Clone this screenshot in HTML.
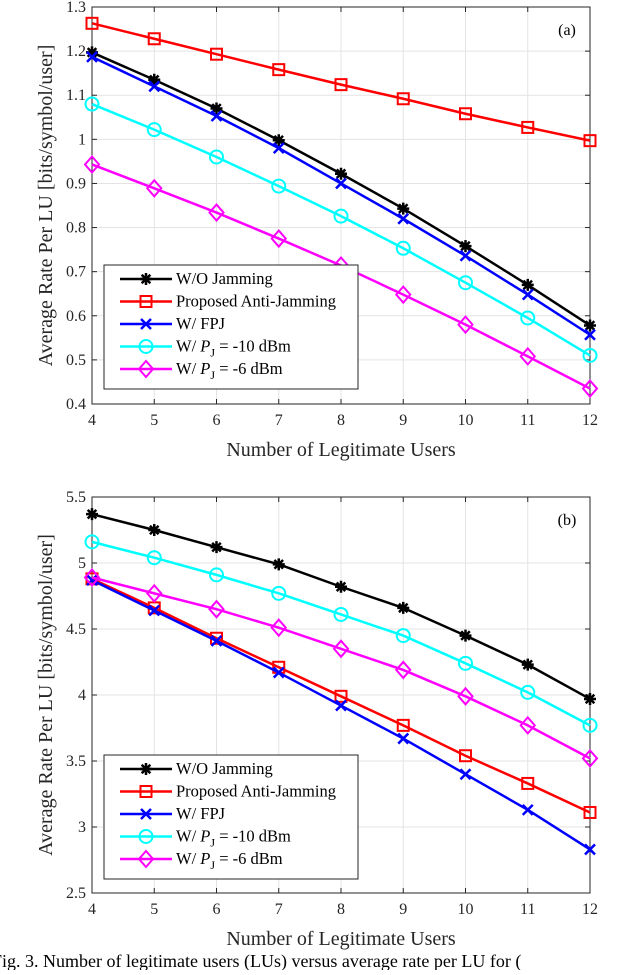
<!DOCTYPE html>
<html><head><meta charset="utf-8"><style>
body{margin:0;background:#fff;width:630px;height:970px;overflow:hidden}
svg{font-family:"Liberation Serif",serif}
</style></head><body>
<svg id="s" width="630" height="970"></svg>
<script>
const xCats=[4,5,6,7,8,9,10,11,12];
const seriesNames=["W/O Jamming","Proposed Anti-Jamming","W/ FPJ","W/ P_J = -10 dBm","W/ P_J = -6 dBm"];
const aWO=[1.197,1.135,1.07,0.998,0.922,0.843,0.758,0.67,0.578];
const aProp=[1.263,1.228,1.193,1.158,1.124,1.092,1.058,1.027,0.997];
const aFPJ=[1.187,1.12,1.053,0.98,0.9,0.82,0.736,0.648,0.557];
const aP10=[1.08,1.022,0.96,0.894,0.826,0.753,0.675,0.595,0.51];
const aP6=[0.943,0.889,0.834,0.775,0.714,0.648,0.58,0.508,0.435];
const bWO=[5.37,5.25,5.12,4.99,4.82,4.66,4.45,4.23,3.97];
const bProp=[4.88,4.66,4.43,4.21,3.99,3.77,3.54,3.33,3.11];
const bFPJ=[4.87,4.64,4.41,4.17,3.92,3.67,3.40,3.13,2.83];
const bP10=[5.16,5.04,4.91,4.77,4.61,4.45,4.24,4.02,3.77];
const bP6=[4.89,4.77,4.65,4.51,4.35,4.19,3.99,3.77,3.52];
const aTicks=["0.4","0.5","0.6","0.7","0.8","0.9","1","1.1","1.2","1.3"];
const bTicks=["2.5","3","3.5","4","4.5","5","5.5"];
const colors=["#000","#f00","#00f","#0ff","#f0f"];
const markers=["star","square","x","circle","diamond"];
const NS="http://www.w3.org/2000/svg";
const svg=document.getElementById('s');
function mk(t,a,p){const e=document.createElementNS(NS,t);for(const k in a)e.setAttribute(k,a[k]);(p||svg).appendChild(e);return e;}
function marker(g,m,x,y,c){
 const st={stroke:c,'stroke-width':2,fill:'none'};
 if(m=="square")mk('rect',Object.assign({x:x-5.5,y:y-5.5,width:11,height:11},st),g);
 else if(m=="circle")mk('circle',Object.assign({cx:x,cy:y,r:6.5},st),g);
 else if(m=="diamond")mk('path',Object.assign({d:`M${x} ${y-8}L${x+7} ${y}L${x} ${y+8}L${x-7} ${y}Z`},st),g);
 else if(m=="x")mk('path',Object.assign({d:`M${x-5} ${y-5}L${x+5} ${y+5}M${x+5} ${y-5}L${x-5} ${y+5}`},st,{'stroke-width':2.5}),g);
 else {mk('path',Object.assign({d:`M${x-6} ${y}H${x+6}M${x} ${y-6}V${y+6}M${x-4.3} ${y-4.3}L${x+4.3} ${y+4.3}M${x+4.3} ${y-4.3}L${x-4.3} ${y+4.3}`},st,{'stroke-width':2.5}),g);}
}
function chart(cfg){
 const L=92,R=590,T=cfg.top,B=cfg.bottom,ymin=+cfg.ticks[0],ymax=+cfg.ticks[cfg.ticks.length-1];
 const xs=v=>L+(v-xCats[0])/(xCats[xCats.length-1]-xCats[0])*(R-L);
 const ys=v=>B-(v-ymin)/(ymax-ymin)*(B-T);
 const g=mk('g',{});
 
 
 mk('rect',{x:L,y:T,width:R-L,height:B-T,fill:'#fff'},g);
 xCats.forEach(v=>{const x=xs(v);mk('line',{x1:x,x2:x,y1:T,y2:B,stroke:'#e3e3e3','stroke-width':1},g);
  mk('line',{x1:x,x2:x,y1:B,y2:B-5,stroke:'#262626'},g);mk('line',{x1:x,x2:x,y1:T,y2:T+5,stroke:'#262626'},g);
  const t=mk('text',{x:x,y:B+21,'text-anchor':'middle','font-size':16,fill:'#262626'},g);t.textContent=v;
  });
 cfg.ticks.forEach(s=>{const y=ys(+s);mk('line',{x1:L,x2:R,y1:y,y2:y,stroke:'#e3e3e3'},g);
  mk('line',{x1:L,x2:L+5,y1:y,y2:y,stroke:'#262626'},g);mk('line',{x1:R,x2:R-5,y1:y,y2:y,stroke:'#262626'},g);
  const t=mk('text',{x:L-6,y:y+5,'text-anchor':'end','font-size':16,fill:'#262626'},g);t.textContent=s;
  });
 mk('rect',{x:L,y:T,width:R-L,height:B-T,fill:'none',stroke:'#262626','stroke-width':1},g);
 cfg.data.forEach((d,i)=>{
  const sg=mk('g',{},g);
  
  
  mk('polyline',{points:d.map((v,j)=>xs(xCats[j])+','+ys(v)).join(' '),fill:'none',stroke:colors[i],'stroke-width':2.5},sg);
  d.forEach((v,j)=>marker(sg,markers[i],xs(xCats[j]),ys(v),colors[i]));
 });
 const lab=mk('text',{x:567,y:T+28,'text-anchor':'middle','font-size':16,fill:'#000'},g);lab.textContent=cfg.label;
 
 const lg=mk('g',{},g);
 
 
 const ly=cfg.legTop;
 mk('rect',{x:104,y:ly,width:254,height:124,fill:'#fff',stroke:'#262626'},lg);
 seriesNames.forEach((n,i)=>{const y=ly+14+i*22.5;
  mk('line',{x1:120,x2:172,y1:y,y2:y,stroke:colors[i],'stroke-width':2.5},lg);marker(lg,markers[i],146,y,colors[i]);
  const t=mk('text',{x:176,y:y+5,'font-size':16.5,fill:'#000'},lg);
  
  if(n.indexOf('P_J')>=0){const p=n.split('P_J');t.innerHTML=p[0]+'<tspan font-style="italic">P</tspan><tspan font-size="12" dy="5">J</tspan><tspan dy="-5">'+p[1]+'</tspan>';}
  else t.textContent=n;});
 const xt=mk('text',{x:341,y:B+52,'text-anchor':'middle','font-size':20,fill:'#262626'},g);xt.textContent="Number of Legitimate Users";
 
 const yc=(T+B)/2;
 const yt=mk('text',{x:52,y:yc,'text-anchor':'middle','font-size':20,fill:'#262626',transform:`rotate(-90 52 ${yc})`},g);yt.textContent="Average Rate Per LU [bits/symbol/user]";
 
}
chart({name:'chart-a',top:7,bottom:404,ticks:aTicks,data:[aWO,aProp,aFPJ,aP10,aP6],label:'(a)',legTop:265});
chart({name:'chart-b',top:497,bottom:893,ticks:bTicks,data:[bWO,bProp,bFPJ,bP10,bP6],label:'(b)',legTop:755});
const cap=mk('text',{x:-8,y:967,'font-size':18,fill:'#000'});
cap.textContent="Fig. 3.  Number of legitimate users (LUs) versus average rate per LU for (";


</script>
</body></html>
